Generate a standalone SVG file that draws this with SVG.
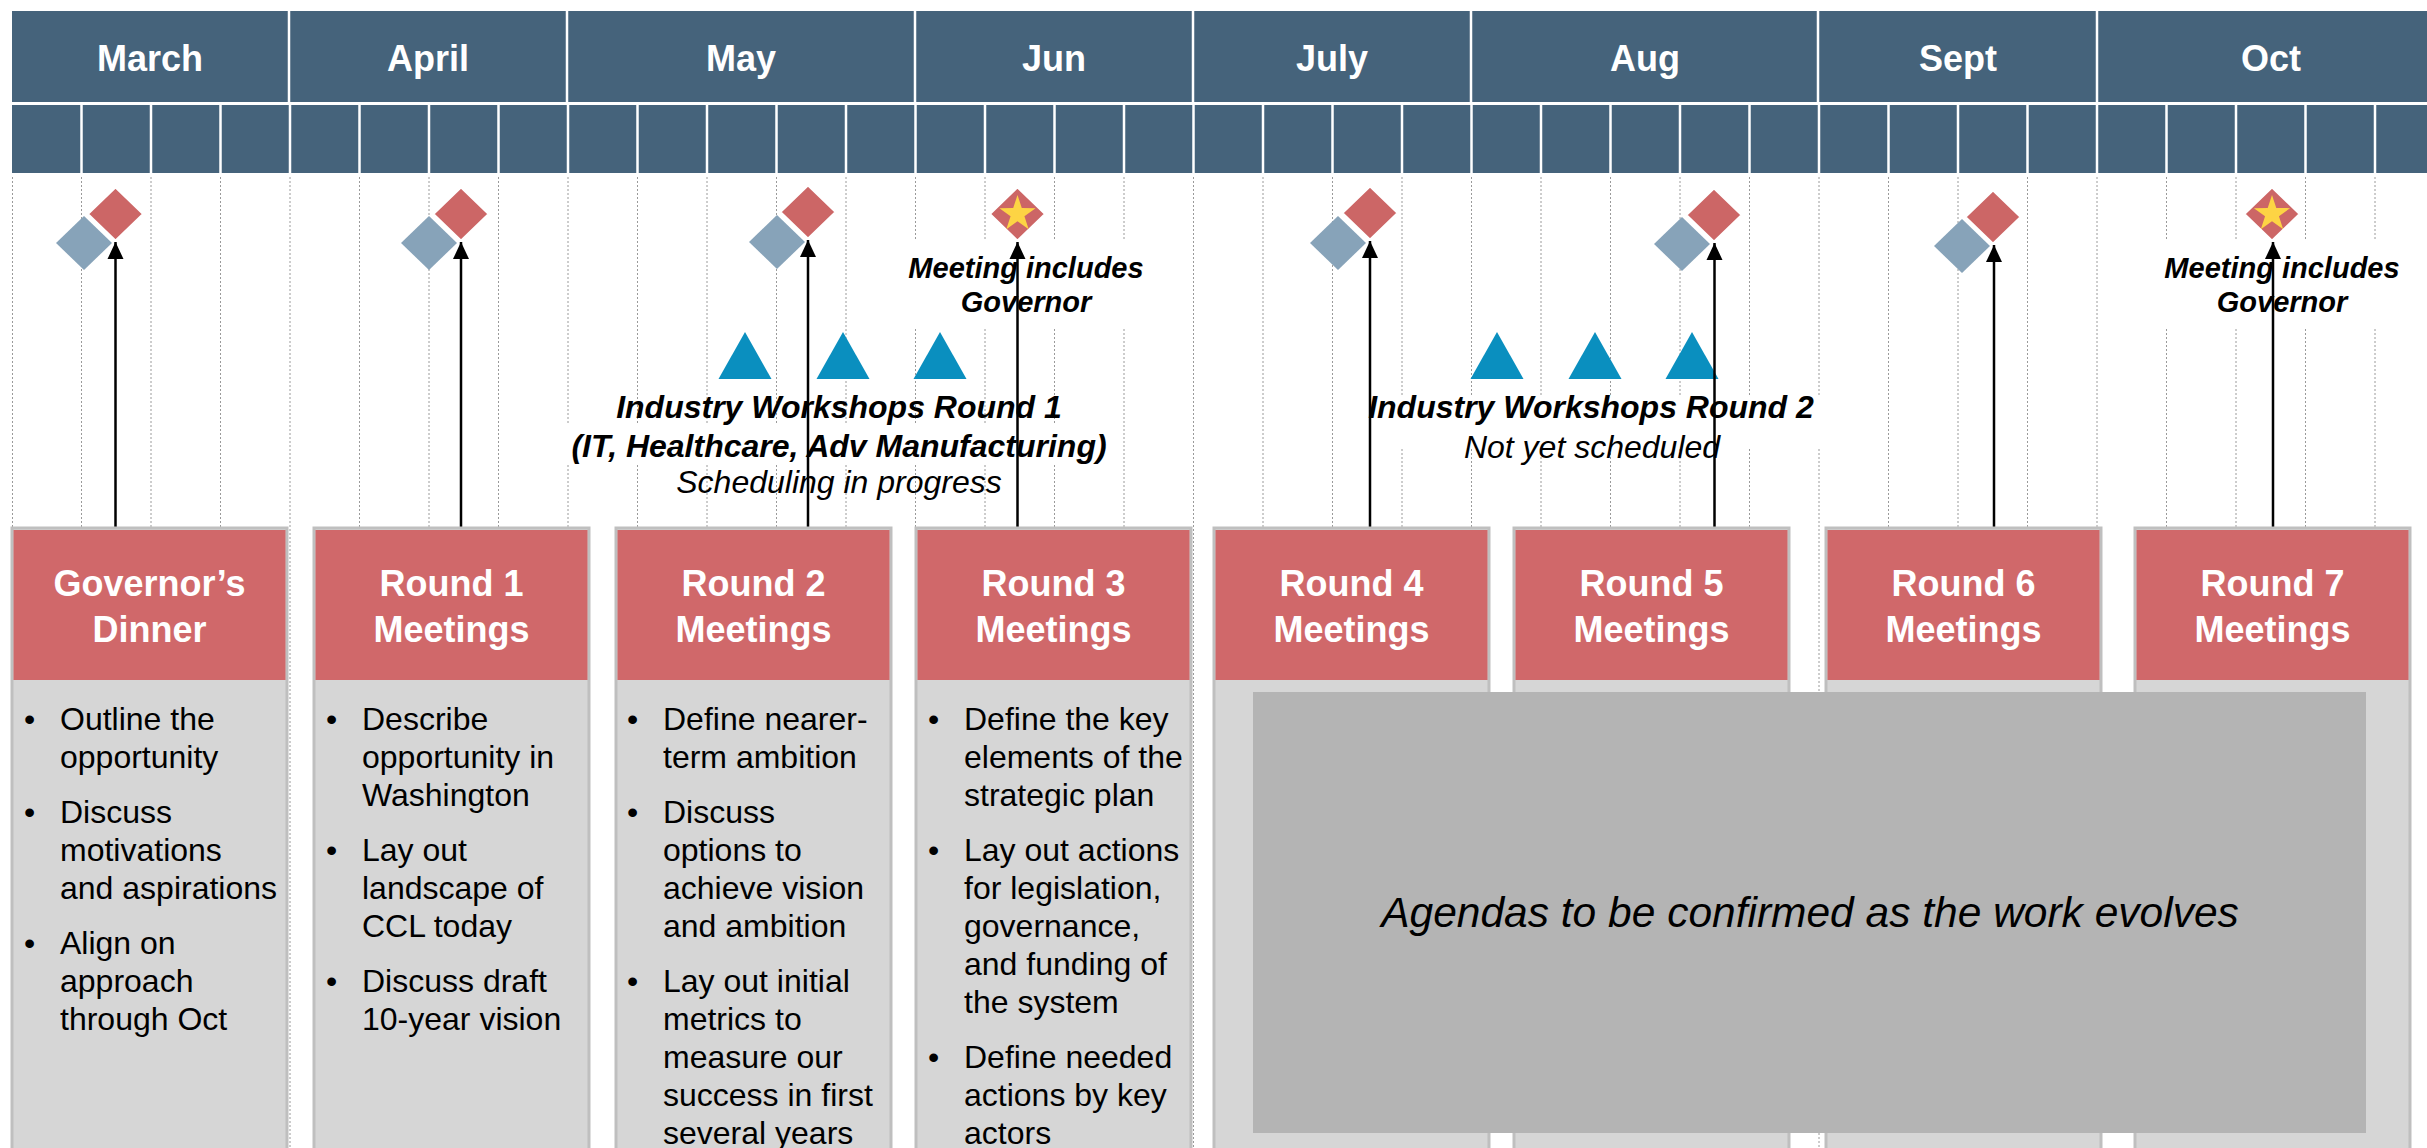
<svg xmlns="http://www.w3.org/2000/svg" xmlns:xlink="http://www.w3.org/1999/xlink" width="2427" height="1148" viewBox="0 0 2427 1148">
<style>
.mon{font-family:"Liberation Sans",Arial,sans-serif;font-weight:bold;font-size:36px;fill:#fff;text-anchor:middle}
.grid{stroke:#9a9a9a;stroke-width:1;stroke-dasharray:2,2}
.hdrline{stroke:#fff;stroke-width:2.5}
.box{fill:#d6d6d6;stroke:#bfbfbf;stroke-width:3}
.boxhdr{fill:#d0686a}
.ttl{font-family:"Liberation Sans",Arial,sans-serif;font-weight:bold;font-size:36px;fill:#fff;text-anchor:middle}
.body{font-family:"Liberation Sans",Arial,sans-serif;font-size:32px;fill:#000}
.note{font-family:"Liberation Sans",Arial,sans-serif;font-weight:bold;font-style:italic;font-size:29px;fill:#000;text-anchor:middle}
.ws{font-family:"Liberation Sans",Arial,sans-serif;font-weight:bold;font-style:italic;font-size:32px;fill:#000;text-anchor:middle}
.wss{font-family:"Liberation Sans",Arial,sans-serif;font-style:italic;font-size:32px;fill:#000;text-anchor:middle}
.agenda{font-family:"Liberation Sans",Arial,sans-serif;font-style:italic;font-size:42.5px;fill:#000;text-anchor:middle}
.arrow{stroke:#000;stroke-width:2.5;fill:none;marker-end:url(#ah)}
.tri{fill:#0a8fbf}
</style>
<defs>
<marker id="ah" markerUnits="userSpaceOnUse" markerWidth="18" markerHeight="18" viewBox="0 0 18 18" refX="17" refY="9" orient="auto">
<path d="M0,1 L17,9 L0,17 Z" fill="#000"/>
</marker>
<polygon id="red" points="0,-27 28,0 0,27 -28,0" fill="#cc6666" stroke="#fff" stroke-width="2.5"/>
<polygon id="blue" points="0,-27 28,0 0,27 -28,0" fill="#87a3b9"/>
<polygon id="star" points="0,-19 4.29,-5.91 18.07,-5.87 6.94,2.26 11.17,15.37 0,7.3 -11.17,15.37 -6.94,2.26 -18.07,-5.87 -4.29,-5.91" fill="#fdd444"/>
<polygon id="tri" points="0,0 26.5,47 -26.5,47" class="tri"/>
</defs>
<rect x="0" y="0" width="2427" height="1148" fill="#fff"/>

<!-- header -->
<g id="header">
<rect x="12" y="11" width="2415" height="91" fill="#45637b"/>
<rect x="12" y="105" width="2415" height="68" fill="#45637b"/>
<g class="hdrline">
<line x1="289" y1="11" x2="289" y2="102"/><line x1="567" y1="11" x2="567" y2="102"/><line x1="915" y1="11" x2="915" y2="102"/><line x1="1193" y1="11" x2="1193" y2="102"/><line x1="1471" y1="11" x2="1471" y2="102"/><line x1="1818" y1="11" x2="1818" y2="102"/><line x1="2097" y1="11" x2="2097" y2="102"/>
<line x1="81.5" y1="105" x2="81.5" y2="173"/><line x1="151" y1="105" x2="151" y2="173"/><line x1="220.5" y1="105" x2="220.5" y2="173"/><line x1="290" y1="105" x2="290" y2="173"/><line x1="359.5" y1="105" x2="359.5" y2="173"/><line x1="429" y1="105" x2="429" y2="173"/><line x1="498.5" y1="105" x2="498.5" y2="173"/><line x1="568" y1="105" x2="568" y2="173"/><line x1="637.5" y1="105" x2="637.5" y2="173"/><line x1="707" y1="105" x2="707" y2="173"/><line x1="776.5" y1="105" x2="776.5" y2="173"/><line x1="846" y1="105" x2="846" y2="173"/><line x1="915.5" y1="105" x2="915.5" y2="173"/><line x1="985" y1="105" x2="985" y2="173"/><line x1="1054.5" y1="105" x2="1054.5" y2="173"/><line x1="1124" y1="105" x2="1124" y2="173"/><line x1="1193.5" y1="105" x2="1193.5" y2="173"/><line x1="1263" y1="105" x2="1263" y2="173"/><line x1="1332.5" y1="105" x2="1332.5" y2="173"/><line x1="1402" y1="105" x2="1402" y2="173"/><line x1="1471.5" y1="105" x2="1471.5" y2="173"/><line x1="1541" y1="105" x2="1541" y2="173"/><line x1="1610.5" y1="105" x2="1610.5" y2="173"/><line x1="1680" y1="105" x2="1680" y2="173"/><line x1="1749.5" y1="105" x2="1749.5" y2="173"/><line x1="1819" y1="105" x2="1819" y2="173"/><line x1="1888.5" y1="105" x2="1888.5" y2="173"/><line x1="1958" y1="105" x2="1958" y2="173"/><line x1="2027.5" y1="105" x2="2027.5" y2="173"/><line x1="2097" y1="105" x2="2097" y2="173"/><line x1="2166.5" y1="105" x2="2166.5" y2="173"/><line x1="2236" y1="105" x2="2236" y2="173"/><line x1="2305.5" y1="105" x2="2305.5" y2="173"/><line x1="2375" y1="105" x2="2375" y2="173"/>
</g>
<text class="mon" x="150" y="71">March</text>
<text class="mon" x="428" y="71">April</text>
<text class="mon" x="741" y="71">May</text>
<text class="mon" x="1054" y="71">Jun</text>
<text class="mon" x="1332" y="71">July</text>
<text class="mon" x="1645" y="71">Aug</text>
<text class="mon" x="1958" y="71">Sept</text>
<text class="mon" x="2271" y="71">Oct</text>
</g>

<!-- grid -->
<g id="grid" class="grid">
<line x1="12.5" y1="177" x2="12.5" y2="1148"/><line x1="81.5" y1="177" x2="81.5" y2="1148"/><line x1="151" y1="177" x2="151" y2="1148"/><line x1="220.5" y1="177" x2="220.5" y2="1148"/><line x1="290" y1="177" x2="290" y2="1148"/><line x1="359.5" y1="177" x2="359.5" y2="1148"/><line x1="429" y1="177" x2="429" y2="1148"/><line x1="498.5" y1="177" x2="498.5" y2="1148"/><line x1="568" y1="177" x2="568" y2="1148"/><line x1="637.5" y1="177" x2="637.5" y2="1148"/><line x1="707" y1="177" x2="707" y2="1148"/><line x1="776.5" y1="177" x2="776.5" y2="1148"/><line x1="846" y1="177" x2="846" y2="1148"/><line x1="915.5" y1="177" x2="915.5" y2="1148"/><line x1="985" y1="177" x2="985" y2="1148"/><line x1="1054.5" y1="177" x2="1054.5" y2="1148"/><line x1="1124" y1="177" x2="1124" y2="1148"/><line x1="1193.5" y1="177" x2="1193.5" y2="1148"/><line x1="1263" y1="177" x2="1263" y2="1148"/><line x1="1332.5" y1="177" x2="1332.5" y2="1148"/><line x1="1402" y1="177" x2="1402" y2="1148"/><line x1="1471.5" y1="177" x2="1471.5" y2="1148"/><line x1="1541" y1="177" x2="1541" y2="1148"/><line x1="1610.5" y1="177" x2="1610.5" y2="1148"/><line x1="1680" y1="177" x2="1680" y2="1148"/><line x1="1749.5" y1="177" x2="1749.5" y2="1148"/><line x1="1819" y1="177" x2="1819" y2="1148"/><line x1="1888.5" y1="177" x2="1888.5" y2="1148"/><line x1="1958" y1="177" x2="1958" y2="1148"/><line x1="2027.5" y1="177" x2="2027.5" y2="1148"/><line x1="2097" y1="177" x2="2097" y2="1148"/><line x1="2166.5" y1="177" x2="2166.5" y2="1148"/><line x1="2236" y1="177" x2="2236" y2="1148"/><line x1="2305.5" y1="177" x2="2305.5" y2="1148"/><line x1="2375" y1="177" x2="2375" y2="1148"/>
</g>

<!-- text box backgrounds -->
<rect x="903" y="240" width="252" height="89" fill="#fff"/>
<rect x="2150" y="240" width="265" height="89" fill="#fff"/>
<rect x="560" y="423" width="560" height="40" fill="#fff"/>
<rect x="1380" y="395" width="450" height="53" fill="#fff"/>

<!-- milestones -->
<g id="m-march"><use xlink:href="#blue" x="84" y="243"/><use xlink:href="#red" x="115.5" y="214"/></g>
<g id="m-april"><use xlink:href="#blue" x="429" y="243"/><use xlink:href="#red" x="461" y="214"/></g>
<g id="m-may"><use xlink:href="#blue" x="777" y="242"/><use xlink:href="#red" x="808" y="212"/></g>
<g id="m-jun"><use xlink:href="#red" x="1017.5" y="214"/><use xlink:href="#star" x="1017.5" y="214"/></g>
<g id="m-july"><use xlink:href="#blue" x="1338" y="243"/><use xlink:href="#red" x="1370" y="213"/></g>
<g id="m-aug"><use xlink:href="#blue" x="1682" y="244"/><use xlink:href="#red" x="1714" y="215"/></g>
<g id="m-sept"><use xlink:href="#blue" x="1962" y="246"/><use xlink:href="#red" x="1993" y="217"/></g>
<g id="m-oct"><use xlink:href="#red" x="2272" y="214"/><use xlink:href="#star" x="2272" y="214"/></g>

<!-- workshop triangles -->
<g id="workshops1">
<use xlink:href="#tri" x="745" y="332"/><use xlink:href="#tri" x="843" y="332"/><use xlink:href="#tri" x="940" y="332"/>
<text class="ws" x="839" y="418">Industry Workshops Round 1</text>
<text class="ws" x="839" y="457">(IT, Healthcare, Adv Manufacturing)</text>
<text class="wss" x="839" y="493">Scheduling in progress</text>
</g>
<g id="workshops2">
<use xlink:href="#tri" x="1497" y="332"/><use xlink:href="#tri" x="1595" y="332"/><use xlink:href="#tri" x="1692" y="332"/>
<text class="ws" x="1591" y="418">Industry Workshops Round 2</text>
<text class="wss" x="1592" y="458">Not yet scheduled</text>
</g>

<!-- connectors -->
<g id="connectors">
<line class="arrow" x1="115.5" y1="528" x2="115.5" y2="242"/>
<line class="arrow" x1="461" y1="528" x2="461" y2="242"/>
<line class="arrow" x1="808" y1="528" x2="808" y2="240"/>
<line class="arrow" x1="1017.5" y1="528" x2="1017.5" y2="242"/>
<line class="arrow" x1="1370" y1="528" x2="1370" y2="241"/>
<line class="arrow" x1="1714.5" y1="528" x2="1714.5" y2="243"/>
<line class="arrow" x1="1994" y1="528" x2="1994" y2="245"/>
<line class="arrow" x1="2273" y1="528" x2="2273" y2="242"/>
</g>

<g id="note-jun">
<text class="note" x="1026" y="278">Meeting includes</text>
<text class="note" x="1026" y="312">Governor</text>
</g>
<g id="note-oct">
<text class="note" x="2282" y="278">Meeting includes</text>
<text class="note" x="2282" y="312">Governor</text>
</g>

<!-- boxes -->
<g id="box-gov">
<rect class="box" x="12" y="528" width="275" height="640"/>
<rect class="boxhdr" x="13.5" y="530" width="272" height="150"/>
<text class="ttl" x="149.5" y="596">Governor’s</text>
<text class="ttl" x="149.5" y="642">Dinner</text>
<g class="body">
<text x="24" y="730">•</text><text x="60" y="730">Outline the</text><text x="60" y="768">opportunity</text>
<text x="24" y="823">•</text><text x="60" y="823">Discuss</text><text x="60" y="861">motivations</text><text x="60" y="899">and aspirations</text>
<text x="24" y="954">•</text><text x="60" y="954">Align on</text><text x="60" y="992">approach</text><text x="60" y="1030">through Oct</text>
</g>
</g>
<g id="box-r1">
<rect class="box" x="314" y="528" width="275" height="640"/>
<rect class="boxhdr" x="315.5" y="530" width="272" height="150"/>
<text class="ttl" x="451.5" y="596">Round 1</text>
<text class="ttl" x="451.5" y="642">Meetings</text>
<g class="body">
<text x="326" y="730">•</text><text x="362" y="730">Describe</text><text x="362" y="768">opportunity in</text><text x="362" y="806">Washington</text>
<text x="326" y="861">•</text><text x="362" y="861">Lay out</text><text x="362" y="899">landscape of</text><text x="362" y="937">CCL today</text>
<text x="326" y="992">•</text><text x="362" y="992">Discuss draft</text><text x="362" y="1030">10-year vision</text>
</g>
</g>
<g id="box-r2">
<rect class="box" x="616" y="528" width="275" height="640"/>
<rect class="boxhdr" x="617.5" y="530" width="272" height="150"/>
<text class="ttl" x="753.5" y="596">Round 2</text>
<text class="ttl" x="753.5" y="642">Meetings</text>
<g class="body">
<text x="627" y="730">•</text><text x="663" y="730">Define nearer-</text><text x="663" y="768">term ambition</text>
<text x="627" y="823">•</text><text x="663" y="823">Discuss</text><text x="663" y="861">options to</text><text x="663" y="899">achieve vision</text><text x="663" y="937">and ambition</text>
<text x="627" y="992">•</text><text x="663" y="992">Lay out initial</text><text x="663" y="1030">metrics to</text><text x="663" y="1068">measure our</text><text x="663" y="1106">success in first</text><text x="663" y="1144">several years</text>
</g>
</g>
<g id="box-r3">
<rect class="box" x="916" y="528" width="275" height="640"/>
<rect class="boxhdr" x="917.5" y="530" width="272" height="150"/>
<text class="ttl" x="1053.5" y="596">Round 3</text>
<text class="ttl" x="1053.5" y="642">Meetings</text>
<g class="body">
<text x="928" y="730">•</text><text x="964" y="730">Define the key</text><text x="964" y="768">elements of the</text><text x="964" y="806">strategic plan</text>
<text x="928" y="861">•</text><text x="964" y="861">Lay out actions</text><text x="964" y="899">for legislation,</text><text x="964" y="937">governance,</text><text x="964" y="975">and funding of</text><text x="964" y="1013">the system</text>
<text x="928" y="1068">•</text><text x="964" y="1068">Define needed</text><text x="964" y="1106">actions by key</text><text x="964" y="1144">actors</text>
</g>
</g>
<g id="box-r4">
<rect class="box" x="1214" y="528" width="275" height="640"/>
<rect class="boxhdr" x="1215.5" y="530" width="272" height="150"/>
<text class="ttl" x="1351.5" y="596">Round 4</text>
<text class="ttl" x="1351.5" y="642">Meetings</text>
</g>
<g id="box-r5">
<rect class="box" x="1514" y="528" width="275" height="640"/>
<rect class="boxhdr" x="1515.5" y="530" width="272" height="150"/>
<text class="ttl" x="1651.5" y="596">Round 5</text>
<text class="ttl" x="1651.5" y="642">Meetings</text>
</g>
<g id="box-r6">
<rect class="box" x="1826" y="528" width="275" height="640"/>
<rect class="boxhdr" x="1827.5" y="530" width="272" height="150"/>
<text class="ttl" x="1963.5" y="596">Round 6</text>
<text class="ttl" x="1963.5" y="642">Meetings</text>
</g>
<g id="box-r7">
<rect class="box" x="2135" y="528" width="275" height="640"/>
<rect class="boxhdr" x="2136.5" y="530" width="272" height="150"/>
<text class="ttl" x="2272.5" y="596">Round 7</text>
<text class="ttl" x="2272.5" y="642">Meetings</text>
</g>

<g id="agenda-overlay">
<rect x="1253" y="692" width="1113" height="441" fill="#b4b4b4"/>
<text class="agenda" x="1810" y="927">Agendas to be confirmed as the work evolves</text>
</g>
</svg>
